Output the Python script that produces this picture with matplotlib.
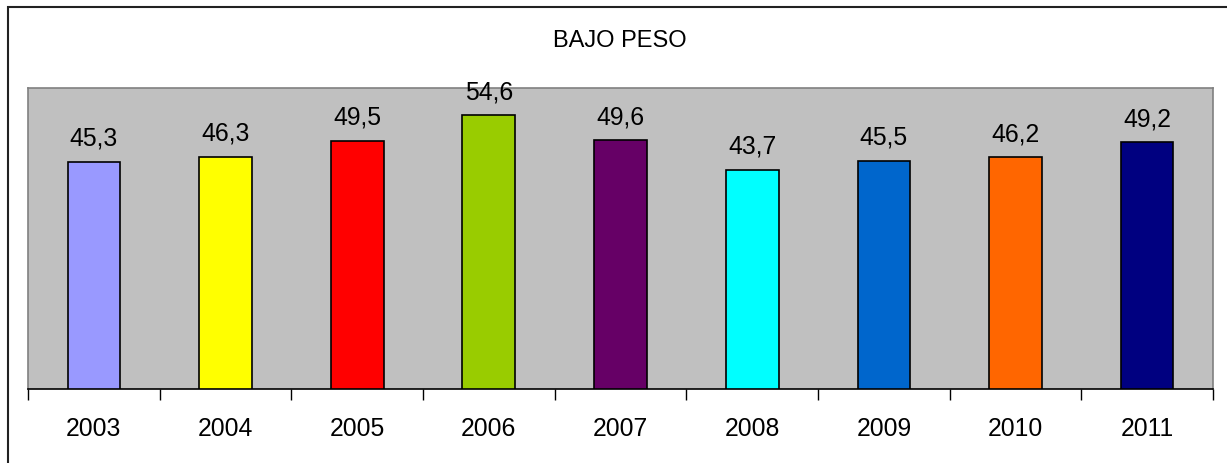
import numpy as np
import matplotlib
matplotlib.use("Agg")
import matplotlib.pyplot as plt
from matplotlib.patches import Rectangle

# DATA
years = ["2003", "2004", "2005", "2006", "2007", "2008", "2009", "2010", "2011"]
values = [45.3, 46.3, 49.5, 54.6, 49.6, 43.7, 45.5, 46.2, 49.2]
colors = ["#9999FF", "#FFFF00", "#FF0000", "#99CC00", "#660066",
          "#00FFFF", "#0066CC", "#FF6600", "#000080"]
title = "BAJO PESO"

plt.rcParams['font.family'] = ['Liberation Sans', 'DejaVu Sans']

fig = plt.figure(figsize=(12.27, 4.63), dpi=100)
W, H = 1227, 463

# outer chart frame (runs off right/bottom edge like the source)
fig.patches.append(Rectangle((8 / W, -0.1), 1.2, (H - 7) / H + 0.1,
                             transform=fig.transFigure, fill=False,
                             edgecolor="#222222", linewidth=1.5))

ax = fig.add_axes([28 / W, 74 / H, (1213 - 28) / W, (389 - 88) / H])
ax.set_facecolor("#C0C0C0")

x = np.arange(len(years))
bars = ax.bar(x, values, width=0.4, color=colors, edgecolor="black", linewidth=1.2, zorder=3)

for xi, v in zip(x, values):
    ax.annotate(f"{v:.1f}".replace(".", ","), (xi, v), xytext=(0, 11.5),
                textcoords="offset points", ha="center", va="baseline",
                fontsize=17.8, color="black", zorder=4)

ax.set_xlim(-0.5, len(years) - 0.5)
ax.set_ylim(0, 60)
ax.set_yticks([])

# ticks at category boundaries, labels centred under bars
ax.set_xticks(np.arange(-0.5, len(years), 1.0))
ax.set_xticklabels([])
ax.set_xticks(x, minor=True)
ax.set_xticklabels(years, minor=True, fontsize=17.8)
ax.tick_params(axis="x", which="major", direction="out", length=8, width=1, color="black")
ax.tick_params(axis="x", which="minor", length=0, pad=20)

for side in ["top", "left", "right"]:
    ax.spines[side].set_color("#808080")
    ax.spines[side].set_linewidth(1.2)
ax.spines["bottom"].set_color("black")
ax.spines["bottom"].set_linewidth(1.2)

fig.text(620 / W, 1 - 41 / H, title, ha="center", va="center", fontsize=17)

fig.savefig("out.png", dpi=100)
